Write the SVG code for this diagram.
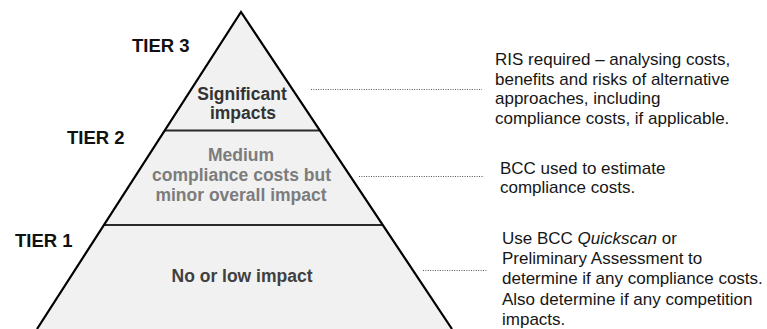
<svg xmlns="http://www.w3.org/2000/svg" width="767" height="329" viewBox="0 0 767 329">
  <style>
    .tier { font-family: "Liberation Sans", Arial, sans-serif; font-weight: bold; font-size: 18.5px; fill: #111; }
    .band { font-family: "Liberation Sans", Arial, sans-serif; font-weight: bold; font-size: 17.5px; text-anchor: middle; }
    .note { font-family: "Liberation Sans", Arial, sans-serif; font-size: 17px; fill: #161616; }
    .edge { stroke: #000; stroke-width: 2.2; fill: none; stroke-linejoin: miter; }
    .divider { stroke: #2a2a2a; stroke-width: 2; }
    .leader { stroke: #555; stroke-width: 1; stroke-dasharray: 1 1.4; }
  </style>
  <rect width="767" height="329" fill="#ffffff"/>

  <!-- pyramid body with its two tier dividers -->
  <g id="pyramid">
    <polygon points="241,12 37,329 452,329" fill="#f1f1f1"/>
    <line class="divider" x1="165" y1="130.5" x2="319" y2="130.5"/>
    <line class="divider" x1="104" y1="225" x2="382" y2="225"/>
    <path class="edge" d="M37,329 L241,12 L452,329"/>
  </g>

  <!-- tier labels -->
  <g id="tier3"><text class="tier" x="132" y="51.5">TIER 3</text></g>
  <g id="tier2"><text class="tier" x="67" y="143.5">TIER 2</text></g>
  <g id="tier1"><text class="tier" x="15" y="246.5">TIER 1</text></g>

  <!-- bands -->
  <g id="band-significant">
    <text class="band" fill="#333" x="242" y="100">Significant</text>
    <text class="band" fill="#333" x="243" y="119">impacts</text>
  </g>
  <g id="band-medium">
    <text class="band" fill="#7c7c7c" x="241" y="161">Medium</text>
    <text class="band" fill="#7c7c7c" x="241.5" y="181">compliance costs but</text>
    <text class="band" fill="#7c7c7c" x="241" y="200.5">minor overall impact</text>
  </g>
  <g id="band-low">
    <text class="band" fill="#404040" x="242" y="282">No or low impact</text>
  </g>

  <!-- dotted leaders from the bands to their notes -->
  <g id="connectors">
    <line class="leader" x1="311" y1="89.5" x2="482" y2="89.5"/>
    <line class="leader" x1="359" y1="176.5" x2="484" y2="176.5"/>
    <line class="leader" x1="423" y1="270.5" x2="487" y2="270.5"/>
  </g>

  <!-- notes -->
  <g id="note-tier3">
    <text class="note" x="495" y="65">RIS required – analysing costs,</text>
    <text class="note" x="495" y="84.5">benefits and risks of alternative</text>
    <text class="note" x="495" y="104">approaches, including</text>
    <text class="note" x="495" y="123.5">compliance costs, if applicable.</text>
  </g>
  <g id="note-tier2">
    <text class="note" x="500" y="173.5">BCC used to estimate</text>
    <text class="note" x="500" y="193">compliance costs.</text>
  </g>
  <g id="note-tier1">
    <text class="note" x="502" y="244">Use BCC <tspan font-style="italic">Quickscan</tspan> or</text>
    <text class="note" x="502" y="264.2">Preliminary Assessment to</text>
    <text class="note" x="502" y="284.4">determine if any compliance costs.</text>
    <text class="note" x="502" y="304.6">Also determine if any competition</text>
    <text class="note" x="502" y="324.8">impacts.</text>
  </g>
</svg>
